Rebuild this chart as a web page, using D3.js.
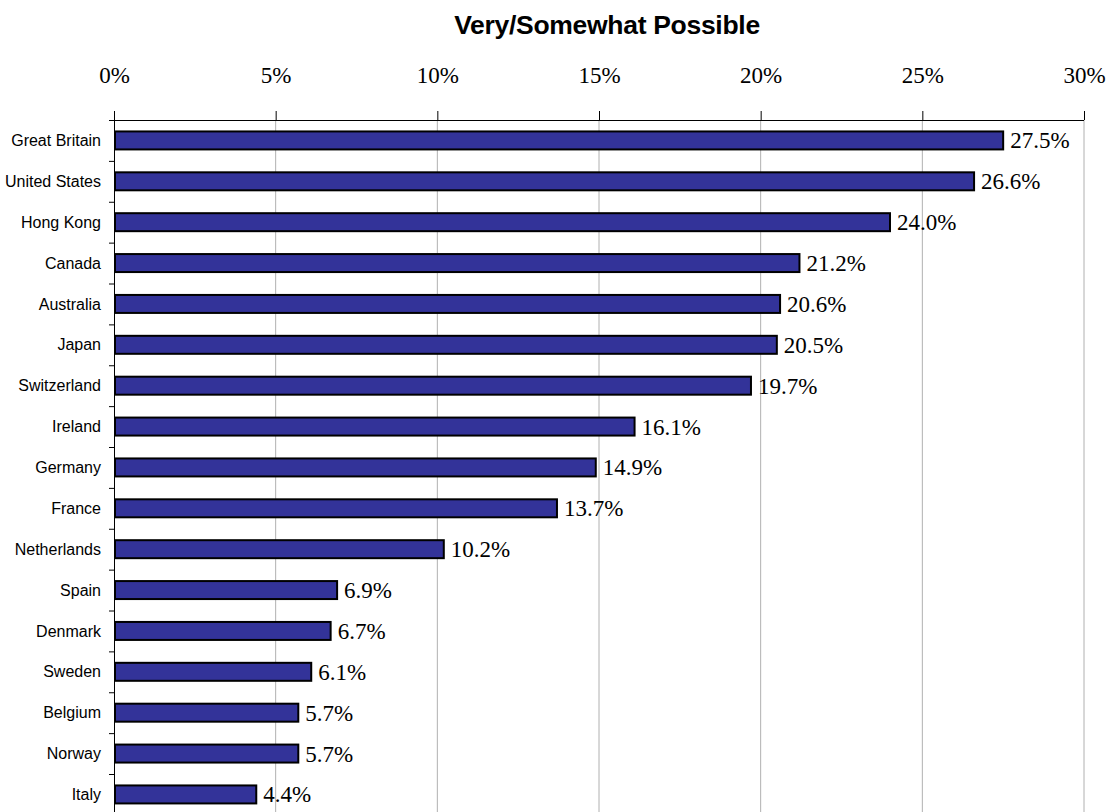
<!DOCTYPE html>
<html>
<head>
<meta charset="utf-8">
<script src="https://cdn.jsdelivr.net/npm/d3@7"></script>
<style>
  body { margin: 0; background: #fff; }
  svg { display: block; }
</style>
</head>
<body>
<div id="chart"></div>
<script>
// data
var countries = ["Great Britain", "United States", "Hong Kong", "Canada", "Australia", "Japan",
  "Switzerland", "Ireland", "Germany", "France", "Netherlands", "Spain", "Denmark", "Sweden",
  "Belgium", "Norway", "Italy"];
var values = [27.5, 26.6, 24.0, 21.2, 20.6, 20.5, 19.7, 16.1, 14.9, 13.7, 10.2, 6.9, 6.7, 6.1, 5.7, 5.7, 4.4];
var xTicks = [0, 5, 10, 15, 20, 25, 30];
var title = "Very/Somewhat Possible";

var w = 1112, h = 812;
var plotLeft = 114, plotRight = 1084, plotTop = 120, step = 40.875;

var svg = d3.select("#chart").append("svg").attr("width", w).attr("height", h);

var x = d3.scaleLinear().domain([0, 30]).range([plotLeft, plotRight]);
var y = d3.scaleBand().domain(countries).range([plotTop, plotTop + step * countries.length]).paddingInner(0.56).paddingOuter(0.28);

// title
svg.append("text")
   .attr("x", 607).attr("y", 34)
   .attr("text-anchor", "middle")
   .style("font-family", "Liberation Sans, Arial, sans-serif")
   .style("font-weight", "bold")
   .style("font-size", "26.5px")
   .style("letter-spacing", "-0.3px")
   .text(title);

// gridlines
svg.append("g").selectAll("line")
   .data(xTicks.slice(1))
   .enter().append("line")
   .attr("x1", d => x(d)).attr("x2", d => x(d))
   .attr("y1", plotTop).attr("y2", h)
   .style("stroke", "#b0b0b0").style("stroke-width", 1);

// top axis
var xAxis = svg.append("g")
   .attr("transform", "translate(0," + plotTop + ")")
   .call(d3.axisTop(x).tickValues(xTicks).tickSize(9).tickPadding(28).tickFormat(d => d + "%"));
xAxis.select(".domain").attr("d", "M" + (plotLeft - 5) + ",0.5H" + plotRight).style("stroke", "#000");
xAxis.selectAll(".tick line").style("stroke", "#000");
xAxis.selectAll("text")
   .style("font-family", "Liberation Serif, 'Times New Roman', serif")
   .style("font-size", "23px")
   .style("fill", "#000");

// left axis line + category ticks
var catTicks = d3.range(countries.length + 1).map(i => plotTop + i * step);
svg.append("line")
   .attr("x1", plotLeft + 0.5).attr("x2", plotLeft + 0.5)
   .attr("y1", plotTop - 9).attr("y2", h)
   .style("stroke", "#000");
svg.append("g").selectAll("line")
   .data(catTicks)
   .enter().append("line")
   .attr("x1", plotLeft - 5).attr("x2", plotLeft)
   .attr("y1", d => d + 0.5).attr("y2", d => d + 0.5)
   .style("stroke", "#000");

// category labels
svg.append("g").selectAll("text")
   .data(countries)
   .enter().append("text")
   .attr("x", 101)
   .attr("y", d => y(d) + y.bandwidth() / 2)
   .attr("dy", "0.35em")
   .attr("text-anchor", "end")
   .style("font-family", "Liberation Sans, Arial, sans-serif")
   .style("font-size", "16px")
   .text(d => d);

// bars
svg.append("g").selectAll("rect")
   .data(values)
   .enter().append("rect")
   .attr("x", x(0) + 1)
   .attr("y", (d, i) => y(countries[i]))
   .attr("width", d => x(d) - x(0) - 1)
   .attr("height", y.bandwidth())
   .style("fill", "#333399")
   .style("stroke", "#000")
   .style("stroke-width", 2);

// value labels
svg.append("g").selectAll("text")
   .data(values)
   .enter().append("text")
   .attr("x", d => x(d) + 7)
   .attr("y", (d, i) => y(countries[i]) + y.bandwidth() / 2)
   .attr("dy", "0.35em")
   .style("font-family", "Liberation Serif, 'Times New Roman', serif")
   .style("font-size", "23px")
   .text(d => d.toFixed(1) + "%");
</script>
</body>
</html>
